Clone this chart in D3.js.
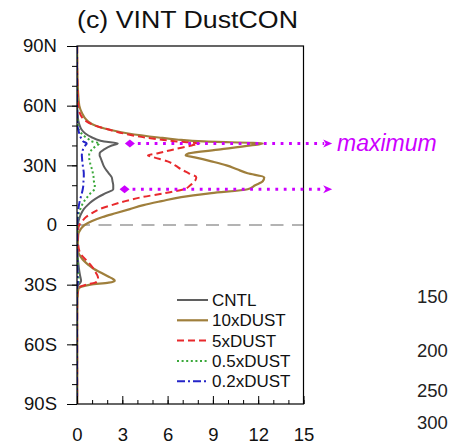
<!DOCTYPE html>
<html><head><meta charset="utf-8">
<script src="https://cdn.jsdelivr.net/npm/d3@7"></script>
<style>
html,body{margin:0;padding:0;background:#fff;overflow:hidden}
svg{display:block;font-family:"Liberation Sans",Arial,Helvetica,sans-serif}
</style></head>
<body>
<svg id="chart" width="449" height="448"></svg>
<script>
// ---------- data ----------
const title = "(c) VINT DustCON";
const seriesNames = ["CNTL", "10xDUST", "5xDUST", "0.5xDUST", "0.2xDUST"];
const lats = [90, 80, 70, 60, 56, 54, 52, 50, 48, 46, 44, 43, 42, 41, 40, 38, 36, 35, 34, 32, 30, 28, 26, 24, 22, 20, 18, 16, 14, 12, 10, 8, 6, 4, 2, 0,
  -2, -5, -10, -14, -16, -18, -20, -22, -24, -26, -27, -28, -29, -30, -31, -32, -35, -40, -50, -60, -70, -80, -90];
const cntl = [0, 0, 0.01, 0.02, 0.04, 0.06, 0.1, 0.18, 0.3, 0.55, 1.0, 1.3, 1.8, 2.7, 2.3, 1.8, 1.5, 1.5, 1.55, 1.65, 1.75, 1.9, 2.1, 2.3, 2.35, 2.4, 2.4, 1.9, 1.4, 1.0, 0.7, 0.45, 0.3, 0.18, 0.1, 0.05,
  0.03, 0.02, 0.02, 0.03, 0.05, 0.07, 0.1, 0.13, 0.17, 0.22, 0.25, 0.27, 0.22, 0.1, 0.04, 0.02, 0.01, 0.01, 0.01, 0.01, 0.01, 0.01, 0.01];
const dust10x = [0.01, 0.02, 0.05, 0.15, 0.35, 0.5, 0.75, 1.2, 2.1, 3.4, 5.4, 6.6, 8.4, 12.3, 11.5, 9.5, 7.4, 7.2, 7.8, 8.9, 9.9, 10.6, 11.3, 12.4, 12.3, 11.8, 11.3, 8.9, 6.9, 5.6, 4.4, 3.5, 2.6, 1.7, 1.0, 0.5,
  0.25, 0.08, 0.05, 0.1, 0.25, 0.45, 0.75, 1.1, 1.6, 2.1, 2.35, 2.5, 2.1, 0.9, 0.3, 0.1, 0.04, 0.02, 0.01, 0.01, 0.01, 0.01, 0.01];
const dust5x = [0.01, 0.01, 0.03, 0.08, 0.2, 0.35, 0.65, 1.2, 2.1, 3.1, 4.5, 5.5, 6.6, 8.1, 7.6, 6.4, 5.3, 4.7, 5.1, 6.0, 6.5, 6.9, 7.4, 7.9, 7.8, 7.5, 7.1, 5.8, 4.3, 3.2, 2.3, 1.5, 1.0, 0.6, 0.35, 0.15,
  0.08, 0.05, 0.08, 0.2, 0.4, 0.65, 0.9, 1.1, 1.25, 1.38, 1.4, 1.38, 1.2, 0.6, 0.2, 0.08, 0.03, 0.01, 0.01, 0.01, 0.01, 0.01, 0.01];
const dust05x = [0, 0, 0, 0.01, 0.02, 0.03, 0.04, 0.06, 0.12, 0.3, 0.6, 0.8, 1.0, 1.5, 1.3, 1.0, 0.82, 0.8, 0.8, 0.85, 0.9, 1.0, 1.05, 1.1, 1.12, 1.18, 1.15, 0.9, 0.68, 0.48, 0.33, 0.22, 0.13, 0.07, 0.04, 0.02,
  0.02, 0.01, 0.01, 0.02, 0.03, 0.04, 0.05, 0.06, 0.08, 0.1, 0.12, 0.13, 0.1, 0.05, 0.02, 0.01, 0.01, 0, 0, 0, 0, 0, 0];
const dust02x = [0, 0, 0, 0.005, 0.01, 0.015, 0.02, 0.03, 0.08, 0.15, 0.25, 0.33, 0.42, 0.64, 0.55, 0.4, 0.33, 0.32, 0.33, 0.35, 0.38, 0.42, 0.45, 0.45, 0.43, 0.42, 0.38, 0.32, 0.25, 0.18, 0.13, 0.09, 0.05, 0.03, 0.02, 0.01,
  0.01, 0.01, 0.01, 0.01, 0.01, 0.02, 0.02, 0.03, 0.03, 0.04, 0.05, 0.06, 0.05, 0.02, 0.01, 0.01, 0, 0, 0, 0, 0, 0, 0];
const xTicks = [0, 3, 6, 9, 12, 15];
const xMinorTicks = d3.range(0, 16, 1);
const yTicks = [-90, -60, -30, 0, 30, 60, 90];
const yMinorTicks = d3.range(-90, 91, 10);
const yTickLabels = ["90S", "60S", "30S", "0", "30N", "60N", "90N"];
const maxLats = [41, 18];          // latitudes of the marked maxima
const maxMarkX = [3.5, 3.15];      // where the diamond markers sit (x units)
const arrowEndX = 16.9;            // arrows end beyond the frame (x units)
const annotationText = "maximum";
const sideLabels = ["150", "200", "250", "300"]; // neighbouring panel's tick labels

// ---------- styles ----------
const colors = ["#5f5f5f", "#9f7f3c", "#e8292c", "#3aa83a", "#2424c8"];
const dashes = [null, null, "7,4", "2,2.6", "8,3,2,3"];
const widths = [2, 2.2, 2, 2, 2];
const values = [cntl, dust10x, dust5x, dust05x, dust02x];

const svg = d3.select("#chart");
const L = 77, R = 303.5, T = 46, B = 404;
const x = d3.scaleLinear().domain([0, 15]).range([L, R]);
const y = d3.scaleLinear().domain([-90, 90]).range([B, T]);

svg.append("defs").append("clipPath").attr("id", "clip")
  .append("rect").attr("x", L).attr("y", T).attr("width", R - L).attr("height", B - T);

// title
svg.append("text").attr("x", 77).attr("y", 28).attr("font-size", 23)
  .attr("textLength", 221).attr("lengthAdjust", "spacingAndGlyphs")
  .attr("fill", "#111").text(title);

// equator dashed line
svg.append("line").attr("x1", x(0)).attr("x2", x(15)).attr("y1", y(0)).attr("y2", y(0))
  .attr("stroke", "#9a9a9a").attr("stroke-width", 1.3).attr("stroke-dasharray", "13,8.5");

// curves
const gLines = svg.append("g").attr("clip-path", "url(#clip)");
const line = d3.line().x(d => x(d[1])).y(d => y(d[0])).curve(d3.curveMonotoneY);
values.forEach((vals, i) => {
  const pts = lats.map((la, k) => [la, vals[k]]);
  gLines.append("path").datum(pts).attr("d", line)
    .attr("fill", "none").attr("stroke", colors[i]).attr("stroke-width", widths[i])
    .attr("stroke-dasharray", dashes[i]).attr("stroke-linejoin", "round");
});

// frame
svg.append("rect").attr("x", L).attr("y", T).attr("width", R - L).attr("height", B - T)
  .attr("fill", "none").attr("stroke", "#000").attr("stroke-width", 1.2);

// y axis (ticks outward)
const yMinor = svg.append("g").attr("transform", `translate(${L},0)`)
  .call(d3.axisLeft(y).tickValues(yMinorTicks).tickSize(5).tickFormat(""));
yMinor.select(".domain").remove();
const yAx = svg.append("g").attr("transform", `translate(${L},0)`)
  .call(d3.axisLeft(y).tickValues(yTicks).tickSize(10).tickPadding(10)
    .tickFormat((d, i) => yTickLabels[i]));
yAx.select(".domain").remove();
yAx.selectAll("text").attr("font-size", 18.5).attr("fill", "#111").attr("font-family", "Liberation Sans, Arial, sans-serif");

// x axis (ticks inward)
const xMinor = svg.append("g").attr("transform", `translate(0,${B})`)
  .call(d3.axisBottom(x).tickValues(xMinorTicks).tickSize(-4).tickFormat(""));
xMinor.select(".domain").remove();
const xAx = svg.append("g").attr("transform", `translate(0,${B})`)
  .call(d3.axisBottom(x).tickValues(xTicks).tickSize(-8).tickPadding(24));
xAx.select(".domain").remove();
xAx.selectAll("text").attr("font-size", 18.5).attr("fill", "#111").attr("font-family", "Liberation Sans, Arial, sans-serif");

// legend
const lg = svg.append("g");
seriesNames.forEach((name, i) => {
  const yy = 300 + i * 20.3;
  lg.append("line").attr("x1", 177).attr("x2", 208).attr("y1", yy).attr("y2", yy)
    .attr("stroke", colors[i]).attr("stroke-width", widths[i]).attr("stroke-dasharray", dashes[i]);
  lg.append("text").attr("x", 212).attr("y", yy).attr("dy", "0.36em")
    .attr("font-size", 17).attr("fill", "#111").text(name);
});

// magenta annotations
const mag = "#cc00ff";
maxLats.forEach((la, i) => {
  const yy = y(la);
  svg.append("line").attr("x1", x(maxMarkX[i]) + 8).attr("x2", x(arrowEndX) - 8)
    .attr("y1", yy).attr("y2", yy).attr("stroke", mag).attr("stroke-width", 3)
    .attr("stroke-dasharray", "2.8,5.6");
  const cx = x(maxMarkX[i]);
  svg.append("path").attr("d", `M${cx - 5},${yy} L${cx},${yy - 4} L${cx + 5},${yy} L${cx},${yy + 4} Z`).attr("fill", mag);
  const ax = x(arrowEndX);
  svg.append("path").attr("d", `M${ax},${yy} L${ax - 9},${yy - 4} L${ax - 6.5},${yy} L${ax - 9},${yy + 4} Z`).attr("fill", mag);
});
svg.append("text").attr("x", 337).attr("y", y(maxLats[0]) + 8).attr("font-size", 23)
  .attr("font-style", "italic").attr("fill", mag).text(annotationText);

// neighbouring panel labels (cut by the right edge)
const sideY = [303, 357, 397, 429];
sideLabels.forEach((t, i) => {
  svg.append("text").attr("x", 417).attr("y", sideY[i]).attr("font-size", 18.5)
    .attr("fill", "#222").text(t);
});
</script>
</body></html>
